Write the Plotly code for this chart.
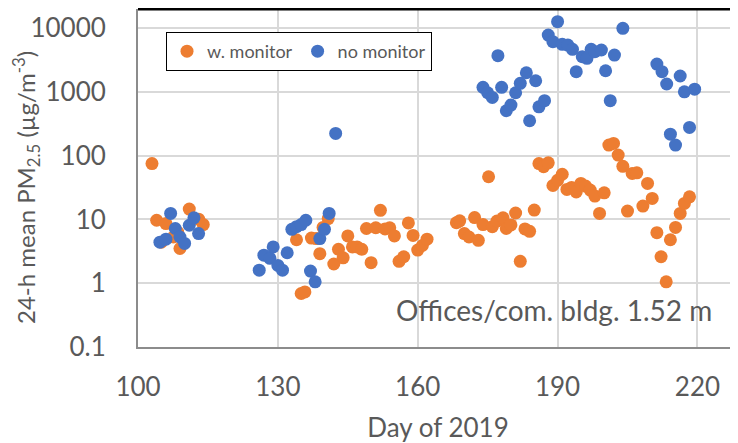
import plotly.graph_objects as go

# w. monitor (orange)
mon_day = [103, 104, 105, 106, 107.6, 108.5, 109, 111, 113, 114,
           134, 135, 135.8, 137.2, 138.2, 139, 139.7, 140.8, 142, 143,
           144, 145, 146, 147, 148, 149, 150, 151, 152, 153,
           154, 155, 156, 157, 158, 159, 160, 161, 162, 168.3,
           169, 170, 171, 172.2, 173, 174, 175.2, 176, 177, 178.3,
           179, 180, 181, 182, 183, 184, 185, 186, 187, 188,
           189, 190, 191, 192, 193, 194, 195, 196, 197, 198,
           199, 200, 201, 202, 203, 204, 205, 206, 207, 208.3,
           209.3, 210.3, 211.3, 212.2, 213.3, 214.2, 215.3, 216.3, 217.2, 218.3]
mon_pm = [75, 9.7, 4.4, 8.6, 5.3, 6.3, 3.5, 14.5, 10.1, 8.3,
          4.8, 0.69, 0.73, 5.1, 5.0, 2.9, 7.5, 10.3, 2.0, 3.4,
          2.5, 5.5, 3.7, 3.7, 3.4, 7.2, 2.1, 7.4, 13.9, 7.1,
          7.4, 5.5, 2.2, 2.6, 8.8, 5.6, 3.3, 3.9, 4.9, 8.9,
          9.5, 6.0, 5.3, 10.7, 4.7, 8.3, 46.6, 7.7, 9.4, 10.6,
          7.2, 8.2, 12.6, 2.2, 7.1, 6.5, 14.0, 75, 67, 77,
          34, 41, 51, 29.5, 31.7, 27, 36.6, 33.3, 28.8, 23.2,
          12.4, 26.1, 146, 155, 102, 68, 13.5, 52.6, 53.7, 16.2,
          36.6, 21.3, 6.2, 2.6, 1.05, 4.8, 7.5, 12.4, 17.8, 22.6]

# no monitor (blue)
nomon_day = [104.7, 106, 107, 108, 109, 110, 111, 112, 113,
             126, 127, 128.3, 129, 130, 131, 132, 133, 134, 135,
             136, 137, 138, 139, 140, 141, 142.4,
             174, 175, 176, 177.2, 178, 179, 180, 181, 182, 183.3,
             184, 185.3, 186, 187.2, 188, 189, 190, 191, 192.2, 193.2,
             194, 195.3, 196.3, 197.2, 198, 199.4, 200.3, 201.3, 202.2, 204,
             211.3, 212.4, 213.4, 214.2, 215.3, 216.3, 217.2, 218.3, 219.4]
nomon_pm = [4.4, 4.9, 12.4, 7.2, 5.3, 4.2, 8.1, 10.6, 6.0,
            1.6, 2.75, 2.45, 3.7, 1.9, 1.6, 3.0, 7.0, 7.7, 8.3,
            9.7, 1.55, 1.05, 5.0, 7.0, 12.4, 223,
            1175, 966, 818, 3680, 1175, 505, 620, 966, 1360, 1990,
            352, 1490, 582, 725, 7760, 6100, 12560, 5550, 5410, 4640,
            2070, 3550, 3350, 4640, 4250, 4520, 2140, 725, 3770, 9890,
            2720, 2070, 1325, 217, 146, 1770, 1000, 277, 1100]

x_ticks = [100, 130, 160, 190, 220]
y_ticks = [0.1, 1, 10, 100, 1000, 10000]
y_ticktext = ['0.1', '1', '10', '100', '1000', '10000']

grey = '#595959'

fig = go.Figure(data=[
    go.Scatter(
        x=mon_day, y=mon_pm,
        mode='markers',
        marker=dict(color='#ED7D31', size=13),
        name='w. monitor'
    ),
    go.Scatter(
        x=nomon_day, y=nomon_pm,
        mode='markers',
        marker=dict(color='#4472C4', size=13),
        name='no monitor'
    )
])

# page body has an 8px margin, so the figure is 8px smaller each way
fig.update_layout(
    width=730, height=435,
    margin=dict(l=130, r=0, t=1, b=96, autoexpand=False),
    plot_bgcolor='white',
    paper_bgcolor='white',
    font=dict(family='Lato, Open Sans, sans-serif', color=grey),
    showlegend=True,
    legend=dict(
        orientation='h',
        x=(166 - 138) / 600, y=(347 - 32) / 338,
        xanchor='left', yanchor='top',
        bordercolor='black', borderwidth=1,
        bgcolor='white',
        font=dict(size=18, color=grey),
        itemwidth=30
    ),
    xaxis=dict(
        range=[100, 228.7],
        tickvals=x_ticks,
        tickfont=dict(size=26, color=grey),
        showgrid=True, gridcolor='#D9D9D9', gridwidth=1.5,
        showline=True, linecolor='#8C8C8C', linewidth=2,
        zeroline=False, automargin=False,
        ticks='', ticklabelstandoff=16,
        title=dict(text='Day of 2019', font=dict(size=26, color=grey), standoff=22)
    ),
    yaxis=dict(
        type='log',
        range=[-1, 4.298],
        tickvals=y_ticks,
        ticktext=y_ticktext,
        tickfont=dict(size=26, color=grey),
        showgrid=True, gridcolor='#D9D9D9', gridwidth=1.5,
        showline=True, linecolor='#8C8C8C', linewidth=2,
        zeroline=False, automargin=False,
        ticks='', ticklabelstandoff=25
    ),
    shapes=[dict(type='line', xref='paper', yref='paper', x0=0, x1=1, y0=1, y1=1,
                 line=dict(color='black', width=3))],
    annotations=[
        dict(text='24-h mean PM<sub>2.5</sub> (µg/m<sup>-3</sup>)',
             xref='paper', yref='paper', x=(26 - 138) / 600, y=(347 - 188) / 338,
             xanchor='center', yanchor='middle', textangle=-90, showarrow=False,
             font=dict(size=24, color=grey)),
        dict(text='Offices/com. bldg. 1.52 m',
             xref='paper', yref='paper', x=(714 - 138) / 600, y=(347 - 310) / 338,
             xanchor='right', yanchor='middle', showarrow=False,
             font=dict(size=28, color=grey))
    ]
)

fig.write_html("out.html")
